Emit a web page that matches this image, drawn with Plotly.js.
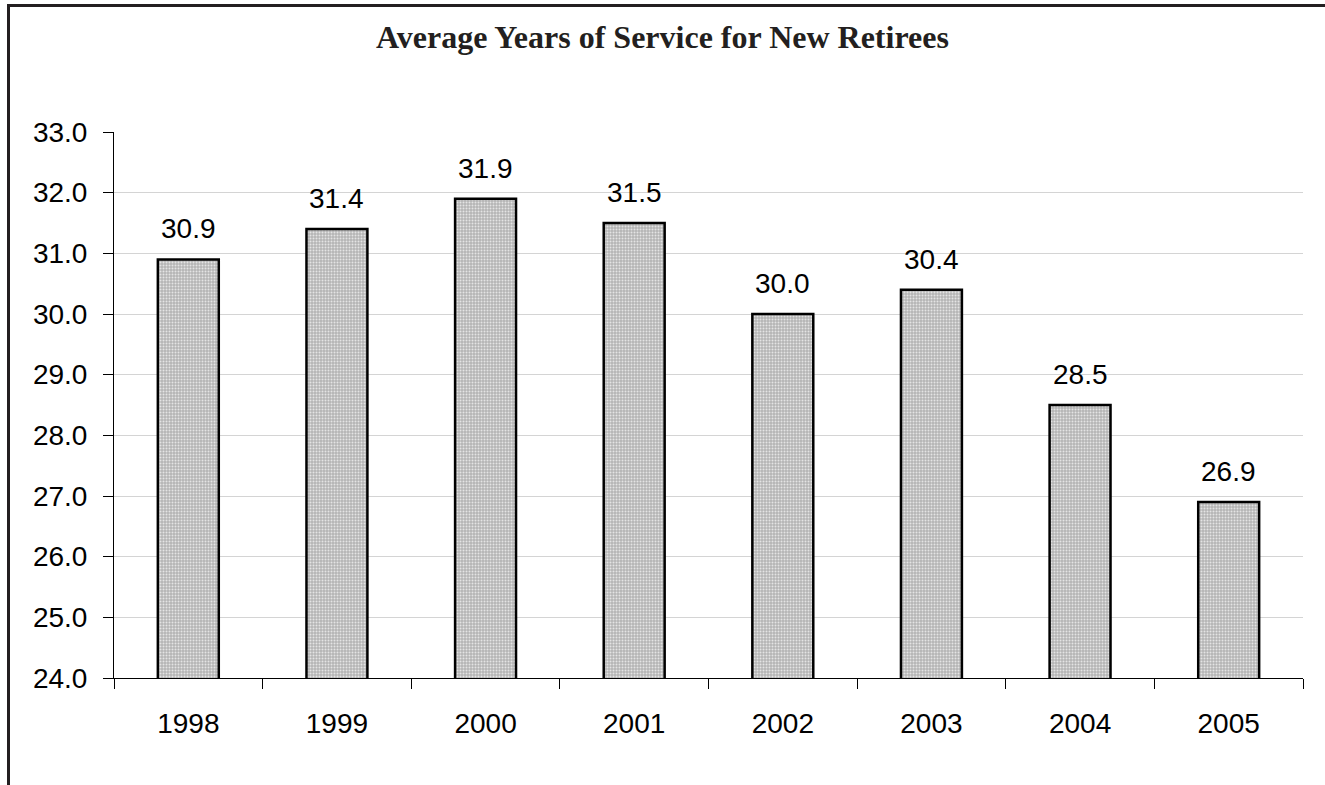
<!DOCTYPE html>
<html>
<head>
<meta charset="utf-8">
<script src="https://cdn.plot.ly/plotly-3.0.1.min.js"></script>
<style>
  html, body { margin: 0; padding: 0; background: #fff; }
  #wrap { position: relative; width: 1325px; height: 785px; }
  #chart { position: absolute; left: 0; top: 0; width: 1325px; height: 785px; }
  #frame { position: absolute; left: 7px; top: 4px; right: 0; bottom: 0;
           border-left: 3px solid #231f20; border-top: 3px solid #231f20;
           pointer-events: none; }
</style>
</head>
<body>
<div id="wrap">
  <div id="chart"></div>
  <div id="frame"></div>
</div>
<script>
const years = ['1998', '1999', '2000', '2001', '2002', '2003', '2004', '2005'];
const avgService = [30.9, 31.4, 31.9, 31.5, 30.0, 30.4, 28.5, 26.9];
const yTicks = [24, 25, 26, 27, 28, 29, 30, 31, 32, 33];

const labelFont = { family: 'Liberation Sans, Arial, sans-serif', size: 28, color: '#000' };

const trace = {
  type: 'bar',
  x: years,
  y: avgService,
  marker: {
    color: '#bdbdbd',
    line: { color: '#000', width: 2.5 },
    pattern: { shape: '.', fgcolor: '#e4e4e4', bgcolor: '#b5b5b5', size: 3, solidity: 0.35 }
  },
  hoverinfo: 'skip'
};

const annotations = years.map((yr, i) => ({
  x: i, y: avgService[i], xref: 'x', yref: 'y',
  text: avgService[i].toFixed(1),
  showarrow: false, yanchor: 'bottom', yshift: 13,
  font: labelFont
}));

const layout = {
  width: 1325, height: 785,
  margin: { l: 114, r: 22, t: 132, b: 107, pad: 0 },
  paper_bgcolor: '#fff', plot_bgcolor: '#fff',
  title: {
    text: '<b>Average Years of Service for New Retirees</b>',
    x: 0.5, xanchor: 'center', y: 0.953, yanchor: 'middle',
    font: { family: 'Liberation Serif, DejaVu Serif, serif', size: 32, color: '#231f20' }
  },
  bargap: 0.59,
  showlegend: false,
  xaxis: {
    type: 'category',
    range: [-0.5, years.length - 0.5],
    tickson: 'boundaries',
    ticks: 'outside', ticklen: 10, tickcolor: '#000', tickwidth: 1,
    showline: true, linecolor: '#000', linewidth: 1,
    showgrid: false, zeroline: false,
    tickangle: 0,
    ticklabelstandoff: 20,
    tickfont: labelFont
  },
  yaxis: {
    range: [24, 33],
    tickvals: yTicks,
    ticktext: yTicks.map(v => v.toFixed(1)),
    ticks: 'outside', ticklen: 10, tickcolor: '#000', tickwidth: 1,
    showline: true, linecolor: '#000', linewidth: 1,
    showgrid: true, gridcolor: '#d4d4d4', gridwidth: 1,
    zeroline: false,
    ticklabelstandoff: 10,
    tickfont: labelFont
  },
  annotations: annotations
};

Plotly.newPlot('chart', [trace], layout, { displayModeBar: false, staticPlot: true });
</script>
</body>
</html>
